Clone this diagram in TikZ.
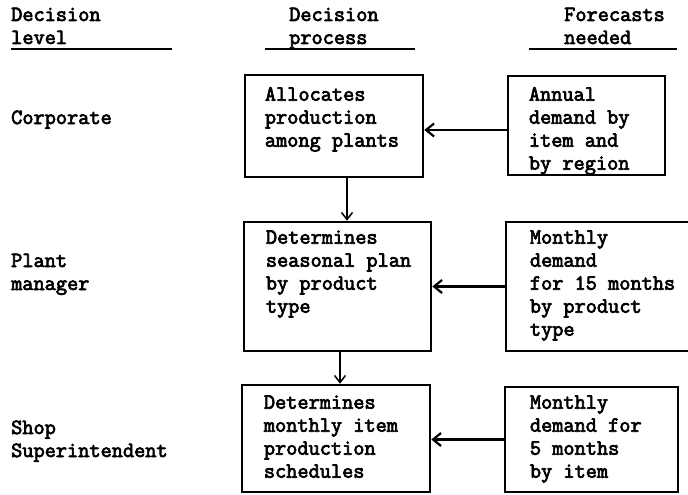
\documentclass[tikz,border=0pt]{standalone}
\usepackage{fontspec}
% slab-serif typewriter face, set heavier
\newfontfamily\typewriter[FakeBold=3.2]{Latin Modern Mono}
\usetikzlibrary{arrows.meta}
% multi-line text whose reference point is the baseline of its first line
\newcommand\txtlines[1]{\parbox[t]{230pt}{\raggedright #1}}
\tikzset{
  every node/.style={font=\typewriter\fontsize{21.7}{23}\selectfont, inner sep=0pt},
  lbl/.style={anchor=base west},
  stage/.style={draw, line width=2.6pt},
  rule/.style={line width=2pt},
  harrow/.style={line width=2.6pt, -{Straight Barb[length=8pt, width=13pt, line width=2.2pt]}},
  varrow/.style={line width=1.5pt, -{Straight Barb[length=7pt, width=11pt, line width=1.5pt]}}
}
\begin{document}
\begin{tikzpicture}[x=1pt, y=-1pt]
  \useasboundingbox (0,0) rectangle (688,495);
  \fill[white] (0,0) rectangle (688,495);

  % column headings
  \node[lbl] (hlevel) at (11,21) {\txtlines{Decision\\level}};
  \node[lbl] (hproc)  at (289,21) {\txtlines{Decision\\process}};
  \node[lbl] (hfcst)  at (564,21) {\txtlines{Forecasts\\needed}};
  \draw[rule] (11,49) -- (172,49);
  \draw[rule] (265,49) -- (415,49);
  \draw[rule] (529,49) -- (677,49);

  % decision levels
  \node[lbl] (lcorp)  at (11,124) {Corporate};
  \node[lbl] (lplant) at (11,267) {\txtlines{Plant\\manager}};
  \node[lbl] (lshop)  at (11,434) {\txtlines{Shop\\Superintendent}};

  % decision process boxes
  \node[stage, minimum width=178pt, minimum height=102pt] (alloc)  at (334,126) {};
  \node[stage, minimum width=187pt, minimum height=129pt] (season) at (337.5,286.5) {};
  \node[stage, minimum width=188pt, minimum height=107pt] (sched)  at (336,438.5) {};

  % forecast boxes
  \node[stage, minimum width=157pt, minimum height=99pt]  (fcA) at (586.5,125.5) {};
  \node[stage, minimum width=194pt, minimum height=129pt] (fcB) at (603,286.5) {};
  \node[stage, minimum width=173pt, minimum height=105pt] (fcC) at (591.5,439.5) {};

  % box texts
  \node[lbl] (talloc)  at ([shift={(21pt,-27pt)}]alloc.north west)  {\txtlines{Allocates\\production\\among plants}};
  \node[lbl] (tseason) at ([shift={(23pt,-23pt)}]season.north west) {\txtlines{Determines\\seasonal plan\\by product\\type}};
  \node[lbl] (tsched)  at ([shift={(23pt,-25pt)}]sched.north west)  {\txtlines{Determines\\monthly item\\production\\schedules}};
  \node[lbl] (tfcA) at ([shift={(22pt,-26pt)}]fcA.north west) {\txtlines{Annual\\demand by\\item and\\by region}};
  \node[lbl] (tfcB) at ([shift={(25pt,-23pt)}]fcB.north west) {\txtlines{Monthly\\demand\\for 15 months\\by product\\type}};
  \node[lbl] (tfcC) at ([shift={(26pt,-23pt)}]fcC.north west) {\txtlines{Monthly\\demand for\\5 months\\by item}};

  % forecasts feed the decisions
  \draw[harrow] ([yshift=-4.5pt]fcA.west) -- ([yshift=-4.5pt]fcA.west -| alloc.east);
  \draw[harrow] (fcB.west) -- (fcB.west -| season.east);
  \draw[harrow] (fcC.west) -- (fcC.west -| sched.east);

  % decisions passed down the levels
  \draw[varrow] ([xshift=13pt]alloc.south) -- ([xshift=13pt]alloc.south |- season.north);
  \draw[varrow] ([xshift=2.5pt]season.south) -- ([xshift=2.5pt]season.south |- sched.north);
\end{tikzpicture}
\end{document}
